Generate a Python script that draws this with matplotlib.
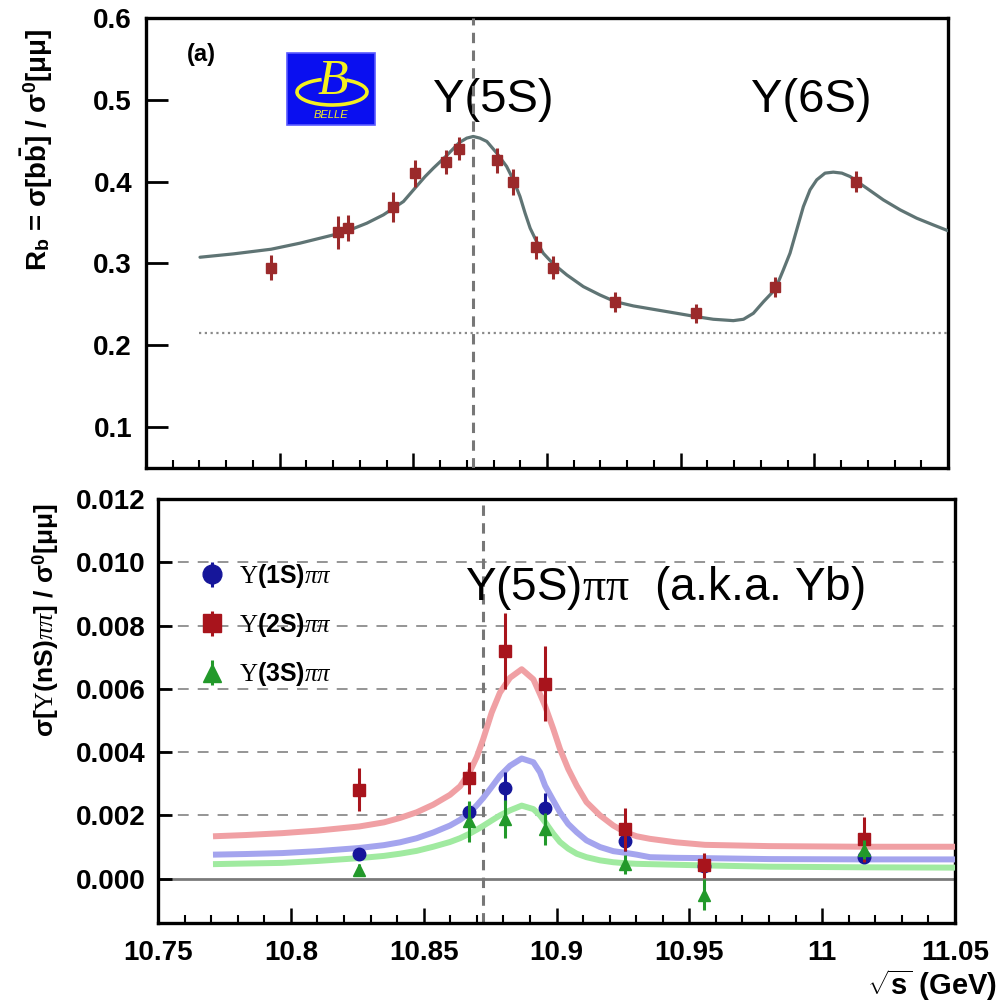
import matplotlib
matplotlib.use("Agg")
import matplotlib.pyplot as plt
from matplotlib.patches import Rectangle, Arc
from matplotlib.ticker import MultipleLocator

plt.rcParams['font.family'] = ['Liberation Sans', 'DejaVu Sans']
plt.rcParams['mathtext.fontset'] = 'custom'
plt.rcParams['mathtext.rm'] = 'Liberation Serif'
plt.rcParams['mathtext.it'] = 'Liberation Serif:italic'
plt.rcParams['mathtext.bf'] = 'Liberation Sans:bold'
plt.rcParams['mathtext.sf'] = 'Liberation Sans'

# ---------------- top panel data: R_b ----------------
rb_x = [10.7968, 10.8218, 10.8256, 10.8424, 10.8506, 10.8622, 10.8671, 10.8813,
        10.8873, 10.8959, 10.9023, 10.9255, 10.9558, 10.9853, 11.0156]
rb_y = [0.295, 0.338, 0.343, 0.369, 0.410, 0.424, 0.440, 0.426,
        0.400, 0.320, 0.295, 0.253, 0.239, 0.271, 0.400]
rb_err = [0.015, 0.020, 0.016, 0.018, 0.017, 0.015, 0.014, 0.015,
          0.016, 0.014, 0.014, 0.012, 0.012, 0.012, 0.013]

fit_x = [10.7702, 10.7827, 10.7968, 10.8076, 10.8201, 10.8263, 10.8326, 10.8388,
         10.8463, 10.8506, 10.8544, 10.8575, 10.8621, 10.8672, 10.8700, 10.8724,
         10.8749, 10.8775, 10.8812, 10.8849, 10.8874, 10.8899, 10.8918, 10.8937,
         10.8958, 10.8986, 10.9021, 10.9074, 10.9136, 10.9198, 10.9255, 10.9323,
         10.9411, 10.9485, 10.9558, 10.9622, 10.9697, 10.9735, 10.9772, 10.9810,
         10.9854, 10.9884, 10.9909, 10.9934, 10.9959, 10.9984, 11.0009, 11.0040,
         11.0071, 11.0103, 11.0134, 11.0156, 11.0196, 11.0258, 11.0321, 11.0383,
         11.0445, 11.0500]
fit_y = [0.3076, 0.3117, 0.3174, 0.3248, 0.3349, 0.3410, 0.3492, 0.3594,
         0.3757, 0.3920, 0.4062, 0.4165, 0.4307, 0.4478, 0.4532, 0.4552,
         0.4532, 0.4491, 0.4349, 0.4185, 0.4022, 0.3818, 0.3615, 0.3431,
         0.3288, 0.3125, 0.3003, 0.2860, 0.2717, 0.2615, 0.2533, 0.2481,
         0.2432, 0.2391, 0.2350, 0.2318, 0.2301, 0.2318, 0.2391, 0.2533,
         0.2685, 0.2921, 0.3125, 0.3410, 0.3695, 0.3900, 0.4022, 0.4104,
         0.4116, 0.4104, 0.4062, 0.4010, 0.3920, 0.3777, 0.3655, 0.3553,
         0.3471, 0.3400]

continuum_level = 0.215
continuum_start = 10.77
peak_5s = 10.8723

# ---------------- bottom panel data: Y(nS) pi pi ----------------
e_pts = [10.8257, 10.8670, 10.8806, 10.8957, 10.9256, 10.9555, 11.0157]
y2s = [0.00281, 0.00318, 0.00720, 0.00616, 0.00157, 0.00042, 0.00124]
y2s_err = [0.00068, 0.00050, 0.00120, 0.00118, 0.00068, 0.00040, 0.00071]
y1s = [0.00078, 0.00211, 0.00287, 0.00222, 0.00118, 0.00040, 0.00070]
y1s_err = [0.00020, 0.00030, 0.00050, 0.00050, 0.00030, 0.00020, 0.00020]
y3s = [0.00028, 0.00182, 0.00189, 0.00157, 0.00045, -0.00050, 0.00091]
y3s_err = [0.00020, 0.00065, 0.00060, 0.00050, 0.00030, 0.00050, 0.00030]

cx = [10.7707, 10.7830, 10.7968, 10.8100, 10.8257, 10.8350, 10.8411, 10.8474,
      10.8536, 10.8599, 10.8637, 10.8672, 10.8700, 10.8724, 10.8756, 10.8787,
      10.8825, 10.8869, 10.8913, 10.8938, 10.8957, 10.8988, 10.9013, 10.9044,
      10.9076, 10.9113, 10.9164, 10.9214, 10.9258, 10.9302, 10.9352, 10.9450,
      10.9559, 10.9800, 11.0157, 11.0500]
c2s = [0.00134, 0.00138, 0.00144, 0.00152, 0.00165, 0.00178, 0.00192, 0.00210,
       0.00234, 0.00265, 0.00292, 0.00335, 0.00385, 0.00441, 0.00525, 0.00588,
       0.00635, 0.00662, 0.00630, 0.00583, 0.00546, 0.00473, 0.00410, 0.00347,
       0.00294, 0.00242, 0.00200, 0.00168, 0.00147, 0.00134, 0.00126, 0.00115,
       0.00107, 0.00103, 0.00101, 0.00101]
c1s = [0.00076, 0.00078, 0.00081, 0.00087, 0.00097, 0.00106, 0.00115, 0.00128,
       0.00146, 0.00168, 0.00186, 0.00208, 0.00232, 0.00255, 0.00290, 0.00325,
       0.00357, 0.00380, 0.00368, 0.00336, 0.00294, 0.00247, 0.00210, 0.00173,
       0.00147, 0.00121, 0.00100, 0.00087, 0.00082, 0.00076, 0.00068, 0.00066,
       0.00065, 0.00062, 0.00061, 0.00061]
c3s = [0.00046, 0.00048, 0.00050, 0.00056, 0.00065, 0.00072, 0.00079, 0.00088,
       0.00101, 0.00116, 0.00128, 0.00142, 0.00155, 0.00167, 0.00184, 0.00200,
       0.00216, 0.00231, 0.00220, 0.00200, 0.00179, 0.00142, 0.00116, 0.00095,
       0.00079, 0.00068, 0.00058, 0.00052, 0.00049, 0.00047, 0.00046, 0.00044,
       0.00042, 0.00038, 0.00036, 0.00035]

xticks = [10.75, 10.8, 10.85, 10.9, 10.95, 11.0, 11.05]
xticklabels = ['10.75', '10.8', '10.85', '10.9', '10.95', '11', '11.05']
top_yticks = [0.1, 0.2, 0.3, 0.4, 0.5, 0.6]
bot_yticks = [0.0, 0.002, 0.004, 0.006, 0.008, 0.010, 0.012]
grid_levels = [0.002, 0.004, 0.006, 0.008, 0.010]

W, H = 1003, 1008
fig = plt.figure(figsize=(W / 100, H / 100), dpi=100)
ax1 = fig.add_axes([146 / W, 1 - 468 / H, 802 / W, 450 / H])
ax2 = fig.add_axes([158 / W, 1 - 923 / H, 797 / W, 424 / H])

for ax in (ax1, ax2):
    for s in ax.spines.values():
        s.set_linewidth(2.4)
        s.set_color('black')

# ---- top panel ----
ax1.set_xlim(10.75, 11.05)
ax1.set_ylim(0.05, 0.6)
ax1.hlines(continuum_level, continuum_start, 11.05, colors='#8a8a8a',
           linestyles=(0, (1, 1.6)), lw=1.6, zorder=2)
ax1.plot(fit_x, fit_y, color='#5f7474', lw=2.3, zorder=3,
         solid_joinstyle='round', solid_capstyle='round')
ax1.axvline(peak_5s, color='#777777', lw=2.2, ls=(0, (3.4, 2.4)), zorder=4)
ax1.errorbar(rb_x, rb_y, yerr=rb_err, fmt='s', color='#9b2a2b', ms=7.5,
             elinewidth=2.2, capsize=0, zorder=5)
ax1.set_yticks(top_yticks)
ax1.set_yticklabels([f'{v:.1f}' for v in top_yticks])
ax1.set_xticks(xticks)
ax1.xaxis.set_minor_locator(MultipleLocator(0.01))
ax1.tick_params(axis='y', direction='in', length=16, width=2, labelsize=20,
                pad=10, right=False)
ax1.tick_params(axis='x', which='major', direction='in', length=11, width=1.8,
                labelbottom=False, top=False)
ax1.tick_params(axis='x', which='minor', direction='in', length=6, width=1.5,
                top=False)
for lab in ax1.get_yticklabels():
    lab.set_fontweight('bold')

ax1.text(10.8798, 0.50, 'Y(5S)', ha='center', va='center', fontsize=34)
ax1.text(10.9988, 0.50, 'Y(6S)', ha='center', va='center', fontsize=34)
fig.text(201 / W, 1 - 55 / H, '(a)', ha='center', va='center', fontsize=17,
         fontweight='bold')

# Belle logo
fig.patches.append(Rectangle((287 / W, 1 - 125 / H), 88 / W, 72 / H,
                             transform=fig.transFigure, facecolor='#0a0ff0',
                             edgecolor='#5a5aff', lw=1.2, zorder=10))
fig.patches.append(Arc((332 / W, 1 - 92 / H), 70 / W, 26 / H,
                       transform=fig.transFigure, theta1=130, theta2=400,
                       color='#f4f020', lw=2.6, zorder=11))
fig.text(333 / W, 1 - 82 / H, 'B', ha='center', va='center', fontsize=36,
         color='#f4f020', family='Liberation Serif', style='italic', zorder=12)
fig.text(331 / W, 1 - 115 / H, 'BELLE', ha='center', va='center', fontsize=8,
         color='#f4f020', style='italic', zorder=12)

fig.text(37 / W, 1 - 150 / H,
         r'R$_\mathbf{b}$ = σ[b$\mathbf{\bar{b}}$] / σ$^\mathbf{0}$[μμ]',
         rotation=90, ha='center', va='center', fontsize=20, fontweight='bold')

# ---- bottom panel ----
ax2.set_xlim(10.75, 11.05)
ax2.set_ylim(-0.0014, 0.012)
for g in grid_levels:
    ax2.axhline(g, color='#8c8c8c', lw=1.3, ls=(0, (6, 5)), zorder=1)
ax2.axhline(0.0, color='#7a7a7a', lw=2.0, zorder=1)
ax2.axvline(peak_5s, color='#777777', lw=2.2, ls=(0, (3.4, 2.4)), zorder=2)
for cy, col in ((c2s, '#f0a0a4'), (c1s, '#a4a4ee'), (c3s, '#a0eaa0')):
    ax2.plot(cx, cy, color=col, lw=4.3, zorder=3, solid_capstyle='butt',
             solid_joinstyle='round')

h1 = ax2.errorbar(e_pts, y1s, yerr=y1s_err, fmt='o', color='#16169a', ms=9,
                  elinewidth=2.2, capsize=0, zorder=5)
h2 = ax2.errorbar(e_pts, y2s, yerr=y2s_err, fmt='s', color='#a8141c', ms=9,
                  elinewidth=2.2, capsize=0, zorder=6)
h3 = ax2.errorbar(e_pts, y3s, yerr=y3s_err, fmt='^', color='#22992a', ms=9,
                  elinewidth=2.2, capsize=0, zorder=7)

ax2.set_yticks(bot_yticks)
ax2.set_yticklabels([f'{v:.3f}' for v in bot_yticks])
ax2.set_xticks(xticks)
ax2.set_xticklabels(xticklabels)
ax2.xaxis.set_minor_locator(MultipleLocator(0.01))
ax2.tick_params(axis='y', direction='in', length=10, width=2, labelsize=20,
                pad=9, right=False)
ax2.tick_params(axis='x', which='major', direction='in', length=11, width=1.8,
                labelsize=20, pad=12, top=False)
ax2.tick_params(axis='x', which='minor', direction='in', length=6, width=1.5,
                top=False)
for lab in ax2.get_yticklabels() + ax2.get_xticklabels():
    lab.set_fontweight('bold')

leg = ax2.legend([h1, h2, h3],
                 [r'$\Upsilon$(1S)$\pi\pi$', r'$\Upsilon$(2S)$\pi\pi$',
                  r'$\Upsilon$(3S)$\pi\pi$'],
                 loc='upper left', bbox_to_anchor=(0.052, 0.852),
                 frameon=False, fontsize=18, markerscale=1.5,
                 handlelength=1.0, handletextpad=0.6, labelspacing=0.85,
                 borderpad=0, borderaxespad=0)
for t in leg.get_texts():
    t.set_fontweight('bold')

ax2.text(10.8655, 0.0092, r'Y(5S)$\mathrm{\pi\pi}$  (a.k.a. Yb)', ha='left',
         va='center', fontsize=33)

fig.text(46 / W, 1 - 620 / H,
         r'σ[$\Upsilon$(nS)$\pi\pi$] / σ$^\mathbf{0}$[μμ]',
         rotation=90, ha='center', va='center', fontsize=19, fontweight='bold')
fig.text(997 / W, 1 - 985 / H, r'$\sqrt{\mathbf{s}}$ (GeV)', ha='right',
         va='center', fontsize=21, fontweight='bold')

fig.savefig('out.png', dpi=100)
